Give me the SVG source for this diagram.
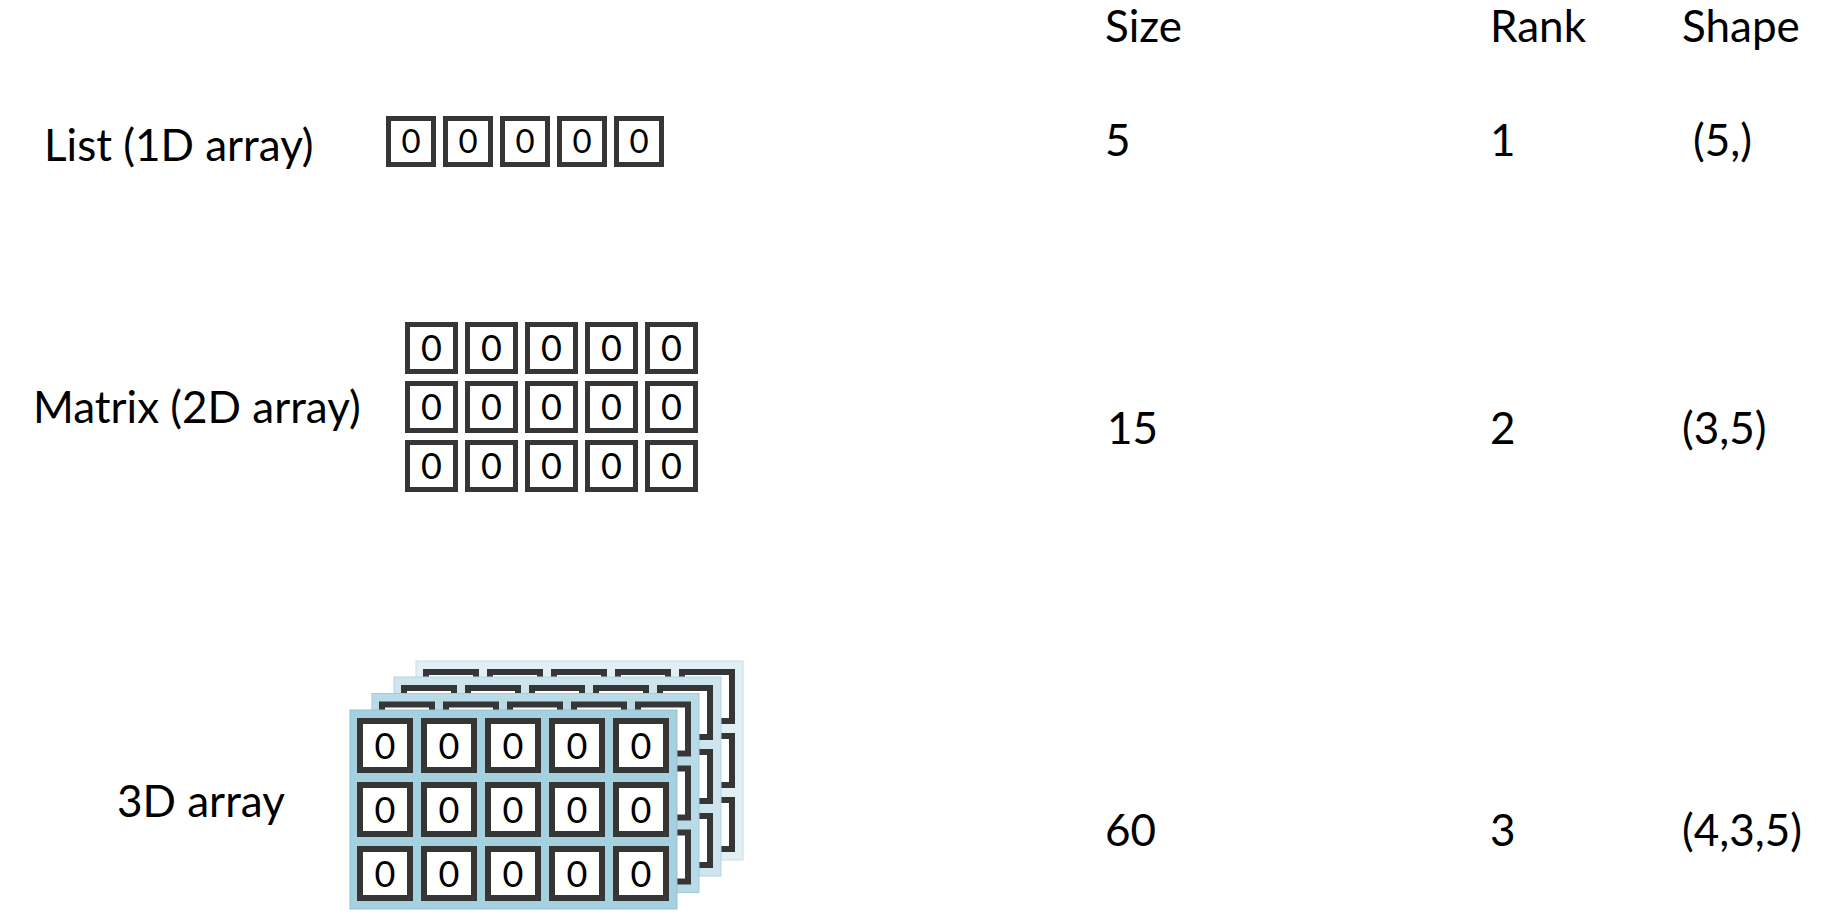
<svg xmlns="http://www.w3.org/2000/svg" width="1834" height="922" viewBox="0 0 1834 922">
<style>
text{font-family:Lato,"Liberation Sans",sans-serif;fill:#000}
.lbl{font-size:44px}
.z1{font-size:33px;text-anchor:middle}
.z2{font-size:36px;text-anchor:middle}
.c1{fill:#fff;stroke:#363636;stroke-width:5}
.c3{fill:#fff;stroke:#363636;stroke-width:6}
</style>
<defs>
<g id="gridc">
<rect class="c3" x="360" y="721" width="50" height="49"/>
<rect class="c3" x="424" y="721" width="50" height="49"/>
<rect class="c3" x="488" y="721" width="50" height="49"/>
<rect class="c3" x="552" y="721" width="50" height="49"/>
<rect class="c3" x="616" y="721" width="50" height="49"/>
<rect class="c3" x="360" y="785" width="50" height="49"/>
<rect class="c3" x="424" y="785" width="50" height="49"/>
<rect class="c3" x="488" y="785" width="50" height="49"/>
<rect class="c3" x="552" y="785" width="50" height="49"/>
<rect class="c3" x="616" y="785" width="50" height="49"/>
<rect class="c3" x="360" y="849" width="50" height="49"/>
<rect class="c3" x="424" y="849" width="50" height="49"/>
<rect class="c3" x="488" y="849" width="50" height="49"/>
<rect class="c3" x="552" y="849" width="50" height="49"/>
<rect class="c3" x="616" y="849" width="50" height="49"/>
</g>
</defs>
<rect width="1834" height="922" fill="#fff"/>

<g id="headers">
<text class="lbl" x="1105" y="42">Size</text>
<text class="lbl" x="1490" y="42">Rank</text>
<text class="lbl" x="1682" y="42">Shape</text>
</g>

<g id="list">
<text class="lbl" x="44" y="161">List (1D array)</text>
<rect class="c1" x="388.5" y="118.5" width="45" height="46"/>
<rect class="c1" x="445.5" y="118.5" width="45" height="46"/>
<rect class="c1" x="502.5" y="118.5" width="45" height="46"/>
<rect class="c1" x="559.5" y="118.5" width="45" height="46"/>
<rect class="c1" x="616.5" y="118.5" width="45" height="46"/>
<text class="z1" x="411" y="153">0</text>
<text class="z1" x="468" y="153">0</text>
<text class="z1" x="525" y="153">0</text>
<text class="z1" x="582" y="153">0</text>
<text class="z1" x="639" y="153">0</text>
<text class="lbl" x="1105" y="156">5</text>
<text class="lbl" x="1490" y="156">1</text>
<text class="lbl" x="1693" y="156">(5,)</text>
</g>

<g id="matrix">
<text class="lbl" x="33" y="423">Matrix (2D array)</text>
<g>
<rect class="c1" x="407.5" y="324.5" width="48" height="47"/>
<rect class="c1" x="467.5" y="324.5" width="48" height="47"/>
<rect class="c1" x="527.5" y="324.5" width="48" height="47"/>
<rect class="c1" x="587.5" y="324.5" width="48" height="47"/>
<rect class="c1" x="647.5" y="324.5" width="48" height="47"/>
<rect class="c1" x="407.5" y="383.5" width="48" height="47"/>
<rect class="c1" x="467.5" y="383.5" width="48" height="47"/>
<rect class="c1" x="527.5" y="383.5" width="48" height="47"/>
<rect class="c1" x="587.5" y="383.5" width="48" height="47"/>
<rect class="c1" x="647.5" y="383.5" width="48" height="47"/>
<rect class="c1" x="407.5" y="442.5" width="48" height="47"/>
<rect class="c1" x="467.5" y="442.5" width="48" height="47"/>
<rect class="c1" x="527.5" y="442.5" width="48" height="47"/>
<rect class="c1" x="587.5" y="442.5" width="48" height="47"/>
<rect class="c1" x="647.5" y="442.5" width="48" height="47"/>
</g>
<g>
<text class="z2" x="431.5" y="361">0</text>
<text class="z2" x="491.5" y="361">0</text>
<text class="z2" x="551.5" y="361">0</text>
<text class="z2" x="611.5" y="361">0</text>
<text class="z2" x="671.5" y="361">0</text>
<text class="z2" x="431.5" y="420">0</text>
<text class="z2" x="491.5" y="420">0</text>
<text class="z2" x="551.5" y="420">0</text>
<text class="z2" x="611.5" y="420">0</text>
<text class="z2" x="671.5" y="420">0</text>
<text class="z2" x="431.5" y="479">0</text>
<text class="z2" x="491.5" y="479">0</text>
<text class="z2" x="551.5" y="479">0</text>
<text class="z2" x="611.5" y="479">0</text>
<text class="z2" x="671.5" y="479">0</text>
</g>
<text class="lbl" x="1107" y="444">15</text>
<text class="lbl" x="1490" y="444">2</text>
<text class="lbl" x="1682" y="444">(3,5)</text>
</g>

<g id="array3d">
<text class="lbl" x="117" y="817">3D array</text>
<g transform="translate(66,-49)">
<rect x="350" y="710" width="327" height="199" fill="#e1f0f5" stroke="#c9dde4" stroke-width="1"/>
<use href="#gridc"/>
</g>
<g transform="translate(44,-33)">
<rect x="350" y="710" width="327" height="199" fill="#cce5ee" stroke="#b6d3de" stroke-width="1"/>
<use href="#gridc"/>
</g>
<g transform="translate(22,-16.5)">
<rect x="350" y="710" width="327" height="199" fill="#b8dbe7" stroke="#a3cbd9" stroke-width="1"/>
<use href="#gridc"/>
</g>
<g>
<rect x="350" y="710" width="327" height="199" fill="#a5d0df" stroke="#93c2d3" stroke-width="1"/>
<use href="#gridc"/>
<text class="z2" x="385" y="759">0</text>
<text class="z2" x="449" y="759">0</text>
<text class="z2" x="513" y="759">0</text>
<text class="z2" x="577" y="759">0</text>
<text class="z2" x="641" y="759">0</text>
<text class="z2" x="385" y="823">0</text>
<text class="z2" x="449" y="823">0</text>
<text class="z2" x="513" y="823">0</text>
<text class="z2" x="577" y="823">0</text>
<text class="z2" x="641" y="823">0</text>
<text class="z2" x="385" y="887">0</text>
<text class="z2" x="449" y="887">0</text>
<text class="z2" x="513" y="887">0</text>
<text class="z2" x="577" y="887">0</text>
<text class="z2" x="641" y="887">0</text>
</g>
<text class="lbl" x="1105" y="846">60</text>
<text class="lbl" x="1490" y="846">3</text>
<text class="lbl" x="1682" y="846">(4,3,5)</text>
</g>

<g id="connectors"/>
</svg>
